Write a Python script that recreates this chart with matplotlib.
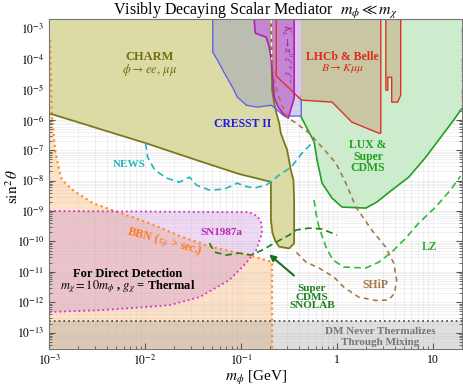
import numpy as np
import matplotlib
matplotlib.use('Agg')
import matplotlib.pyplot as plt
from matplotlib.ticker import LogLocator, NullFormatter

plt.rcParams['font.family'] = 'serif'
plt.rcParams['font.serif'] = ['Liberation Serif', 'DejaVu Serif']
plt.rcParams['mathtext.fontset'] = 'stix'

# ---- data (m_phi [GeV], sin^2 theta) ----
charm_m = [1e-3, 1.01e-2, 3.69e-2, 9.6e-2, 0.205, 0.205, 0.213, 0.228, 0.25, 0.318,
           0.358, 0.358, 0.352, 0.331, 0.303, 0.26, 0.25, 0.234, 0.222, 0.211, 0.206]
charm_s = [1.62e-6, 1.71e-7, 4.38e-8, 1.64e-8, 9.1e-9, 5.0e-10, 1.88e-10, 1.02e-10, 6.7e-11, 5.9e-11,
           8.65e-11, 2.29e-9, 1.04e-8, 2.21e-8, 1.0e-7, 3.63e-7, 7.75e-7, 1.65e-6, 3.5e-6, 9.3e-6, 2e-3]

cresst_m = [5.07e-2, 5.07e-2, 5.68e-2, 6.71e-2, 8.13e-2, 9.16e-2, 0.114, 0.148, 0.207, 0.239, 0.282, 0.425, 0.425]
cresst_s = [2e-3, 1.66e-4, 9.1e-5, 3.4e-5, 1.18e-5, 5.5e-6, 3.0e-6, 2.6e-6, 3.0e-6, 2.07e-6, 1.32e-6, 1.32e-6, 2e-3]

kl_m = [0.137, 0.141, 0.183, 0.197, 0.207, 0.222, 0.244, 0.282, 0.311, 0.334, 0.358, 0.358]
kl_s = [2e-3, 7.0e-4, 5.2e-4, 2.43e-4, 9.1e-5, 5.5e-6, 2.6e-6, 1.42e-6, 1.13e-6, 2.41e-6, 5.1e-6, 2e-3]
kl2_m = [0.358, 0.425, 0.425, 0.358]
kl2_s = [2e-3, 2e-3, 6.45e-6, 5.1e-6]

lhcb_m = [0.233, 0.233, 0.318, 0.425, 0.891, 1.43, 2.73, 2.87, 2.87]
lhcb_s = [2e-3, 2.71e-5, 1.09e-5, 4.42e-6, 3.8e-6, 8.4e-7, 3.63e-7, 3.63e-7, 2e-3]
lhcb2_m = [3.24, 3.24, 3.4, 3.4, 3.73, 3.73, 4.31, 4.63, 4.63]
lhcb2_s = [2e-3, 9.4e-6, 9.4e-6, 2.5e-5, 2.5e-5, 3.8e-6, 3.8e-6, 6.45e-6, 2e-3]

lux_m = [0.425, 0.58, 0.621, 0.70, 0.889, 1.13, 2.01, 2.61, 3.74, 5.62, 8.45, 11.5, 16.5, 20.0]
lux_s = [1.21e-6, 1.84e-7, 4.72e-8, 8.3e-9, 2.67e-9, 1.35e-9, 1.25e-9, 1.97e-9, 4.88e-9, 1.30e-8,
         5.9e-8, 2.14e-7, 9.7e-7, 2.3e-6]

bbn_m = [1.02e-3, 1.06e-3, 1.15e-3, 1.29e-3, 1.36e-3, 1.76e-3, 2.84e-3, 5.18e-3, 1.11e-2, 2.45e-2,
         5.04e-2, 9.6e-2, 0.122, 0.211, 0.211]
bbn_s = [4.13e-4, 1.65e-6, 1.0e-7, 1.76e-8, 1.04e-8, 4.88e-9, 1.82e-9, 9.2e-10, 4.0e-10, 1.39e-10,
         6.5e-11, 4.15e-11, 3.56e-11, 2.1e-11, 3e-14]

sn_m = [1e-3, 0.122, 0.148, 0.163, 0.166, 0.144, 0.113, 7.55e-2, 3.69e-2, 1.8e-2, 7.4e-3, 3.37e-3, 1e-3]
sn_s = [1.0e-9, 9.2e-10, 6.8e-10, 4.0e-10, 1.88e-10, 5.2e-11, 1.95e-11, 5.4e-12, 1.48e-12, 8.1e-13,
        6.5e-13, 5.5e-13, 4.8e-13]

dm_never_s = 2.5e-13

news_m = [1.01e-2, 1.06e-2, 1.26e-2, 1.67e-2, 2.28e-2, 2.9e-2, 3.43e-2, 4.68e-2, 6.7e-2, 9.14e-2,
          0.108, 0.137, 0.183, 0.25, 0.334, 0.432, 0.577]
news_s = [1.71e-7, 5.9e-8, 2.21e-8, 1.21e-8, 8.9e-9, 1.30e-8, 7.1e-9, 4.88e-9, 5.25e-9, 8.3e-9,
          6.6e-9, 5.7e-9, 7.1e-9, 1.52e-8, 2.78e-8, 8.0e-8, 1.98e-7]

snolab_m = [4.68e-2, 5.27e-2, 7.03e-2, 9.6e-2, 0.128, 0.166, 0.232, 0.318, 0.375, 0.513, 0.70, 1.0]
snolab_s = [8.9e-11, 4.48e-11, 3.57e-11, 4.15e-11, 3.57e-11, 5.2e-11, 9.5e-11, 1.62e-10, 2.37e-10,
            2.75e-10, 2.55e-10, 1.62e-10]

lz_m = [0.577, 0.605, 0.65, 0.769, 0.91, 1.18, 2.0, 2.74, 3.74, 5.23, 7.13, 10.7, 15.3, 19.5]
lz_s = [2.29e-9, 8.6e-10, 2.97e-10, 6.5e-11, 2.45e-11, 1.44e-11, 1.34e-11, 2.1e-11, 4.48e-11,
        1.29e-10, 4.0e-10, 1.35e-9, 4.88e-9, 1.41e-8]

ship_m = [0.211, 0.222, 0.239, 0.269, 0.311, 0.377, 0.514, 0.70, 0.977, 1.24, 1.58, 2.31, 3.23,
          3.92, 4.2, 4.0, 3.47, 2.54, 1.69, 1.18, 0.93, 0.65, 0.476, 0.358]
ship_s = [9.1e-5, 2.0e-5, 8.1e-6, 2.8e-6, 1.13e-6, 7.75e-7, 3.63e-7, 1.26e-7, 3.76e-8, 8.3e-9,
          1.35e-9, 2.37e-10, 6.5e-11, 1.95e-11, 5.4e-12, 2.0e-12, 1.19e-12, 1.15e-12, 1.48e-12,
          3.16e-12, 6.76e-12, 1.34e-11, 2.1e-11, 5.2e-11]

xmin, xmax = 1e-3, 20.0
ymin, ymax = 2.85e-14, 2e-3

fig = plt.figure(figsize=(4.63, 3.88), dpi=100)
ax = fig.add_axes([0.1065, 0.0997, 0.8905, 0.8505])
ax.set_xscale('log')
ax.set_yscale('log')
ax.set_xlim(xmin, xmax)
ax.set_ylim(ymin, ymax)

# BBN
ax.fill(bbn_m + [1e-3, 1e-3], bbn_s + [3e-14, 4.13e-4], color='#fde2c8', lw=0, zorder=1)
ax.plot(bbn_m, bbn_s, color='#ff8a1e', ls=':', lw=1.5, zorder=8)
# SN1987a
ax.fill(sn_m, sn_s, color=(0.76, 0.45, 0.84), alpha=0.28, lw=0, zorder=2)
ax.plot(sn_m, sn_s, color='#cc33cc', ls=':', lw=1.3, zorder=8)
# DM never thermalizes
ax.axhspan(ymin, dm_never_s, color=(0.45, 0.45, 0.45), alpha=0.22, lw=0, zorder=2)
ax.axhline(dm_never_s, color='#555555', ls=':', lw=1.3, zorder=8)

# CHARM
ax.fill(charm_m + [1e-3], charm_s + [2e-3], color='#dcdba6', lw=0, zorder=3)
ax.plot(charm_m, charm_s, color='#7a7a1a', lw=1.3, zorder=8)
# LUX & SuperCDMS
ax.fill(lux_m + [20.0, 0.425], lux_s + [2e-3, 2e-3], color='#cdeccd', lw=0, zorder=3)
ax.plot(lux_m, lux_s, color='#22a022', lw=1.2, zorder=8)
# LHCb & Belle
ax.fill(lhcb_m, lhcb_s, color='#c9c6a4', lw=0, zorder=4)
ax.fill(lhcb2_m, lhcb2_s, color='#c9c6a4', lw=0, zorder=4)
ax.plot(lhcb_m, lhcb_s, color='#dd3322', lw=1.0, zorder=8)
ax.plot(lhcb2_m, lhcb2_s, color='#dd3322', lw=1.0, zorder=8)
# CRESST II
ax.fill(cresst_m, cresst_s, color=(0.50, 0.52, 0.78), alpha=0.35, lw=0, zorder=5)
ax.plot(cresst_m[:-1] + [0.425], cresst_s[:-1] + [4.4e-6], color='#5a5af0', lw=0.9, zorder=8)
# K_L
ax.fill(kl2_m, kl2_s, color='#dcc0ee', lw=0, zorder=6)
ax.fill(kl_m, kl_s, color='#c486d2', lw=0, zorder=6)
ax.plot(kl_m, kl_s, color='#b020b0', lw=1.2, zorder=8)

# dashed projections
ax.plot(news_m, news_s, color='#22b5bd', ls=(0, (4, 2.5)), lw=1.2, zorder=8)
ax.plot(snolab_m, snolab_s, color='#1a801a', ls=(0, (4, 2.5)), lw=1.2, zorder=8)
ax.plot(lz_m, lz_s, color='#33bb33', ls=(0, (4, 2.5)), lw=1.2, zorder=8)
ax.plot(ship_m, ship_s, color='#a8784a', ls=(0, (3, 2.5)), lw=1.2, zorder=8)
ax.plot([0.206, 0.209], [2e-3, 9.5e-5], color='white', ls=(0, (3, 2.5)), lw=1.0, zorder=8)

ax.annotate('', xy=(0.187, 4.3e-11), xytext=(0.375, 6.6e-12),
            arrowprops=dict(arrowstyle='-|>', color='#1a701a', lw=1.5, mutation_scale=9), zorder=9)

# grid
ax.grid(which='both', color='#bbbbbb', lw=0.4, alpha=0.35, zorder=7)
ax.set_axisbelow(False)

# labels
tr = ax.transAxes
kw = dict(transform=tr, ha='center', va='center', fontweight='bold', zorder=10)
ax.text(0.244, 0.886, 'CHARM', color='#6f6f10', fontsize=9, **kw)
ax.text(0.244, 0.846, r'$\phi\rightarrow ee,\,\mu\mu$', color='#6f6f10', fontsize=9, **kw)
ax.text(0.470, 0.683, 'CRESST II', color='#1a1aee', fontsize=8.5, **kw)
ax.text(0.711, 0.886, 'LHCb & Belle', color='#dd2a1a', fontsize=8.5, **kw)
ax.text(0.711, 0.852, r'$B\rightarrow K\mu\mu$', color='#dd2a1a', fontsize=8.5, **kw)
ax.text(0.773, 0.583, 'LUX &\nSuper\nCDMS', color='#22a022', fontsize=8.5, linespacing=0.95, **kw)
ax.text(0.1945, 0.5615, 'NEWS', color='#22b5bd', fontsize=8, **kw)
ax.text(0.4163, 0.3555, 'SN1987a', color='#bb22bb', fontsize=8, **kw)
ax.text(0.2805, 0.3252, r'BBN ($\tau_\phi$ > sec.)', color='#ff7a20', fontsize=8.5,
        rotation=-15, **kw)
ax.text(0.1908, 0.2282, 'For Direct Detection', color='black', fontsize=9, **kw)
ax.text(0.1908, 0.1888, r'$m_\chi = 10m_\phi$ , $g_\chi$ = Thermal', color='black', fontsize=9, **kw)
ax.text(0.637, 0.1585, 'Super\nCDMS\nSNOLAB', color='#1a801a', fontsize=8, linespacing=0.95, **kw)
ax.text(0.79, 0.1948, 'SHiP', color='#a8784a', fontsize=8.5, **kw)
ax.text(0.923, 0.31, 'LZ', color='#33b033', fontsize=8.5, **kw)
ax.text(0.802, 0.0555, 'DM Never Thermalizes', color='#777777', fontsize=8, **kw)
ax.text(0.802, 0.0221, 'Through Mixing', color='#777777', fontsize=8, **kw)
ax.text(0.574, 0.895, r'$K_L\rightarrow\pi^0\ell^+\ell^-$', color='#aa10aa', fontsize=7,
        rotation=-90, **dict(kw, fontweight='normal'))

# ticks
ax.set_xticks([1e-3, 1e-2, 1e-1, 1, 10])
ax.set_xticklabels([r'$10^{-3}$', r'$10^{-2}$', r'$10^{-1}$', '1', '10'])
yt = [10.0 ** k for k in range(-13, -2)]
ax.set_yticks(yt)
ax.set_yticklabels([r'$10^{%d}$' % k for k in range(-13, -2)])
ax.xaxis.set_minor_locator(LogLocator(base=10, subs=np.arange(2, 10), numticks=100))
ax.yaxis.set_minor_locator(LogLocator(base=10, subs=np.arange(2, 10), numticks=100))
ax.xaxis.set_minor_formatter(NullFormatter())
ax.yaxis.set_minor_formatter(NullFormatter())
ax.tick_params(which='both', direction='in', top=True, right=True, labelsize=8.5, color='#555555')
ax.tick_params(which='major', length=4)
ax.tick_params(which='minor', length=2)
for sp in ax.spines.values():
    sp.set_color('#777777')
    sp.set_zorder(11)

fig.text(0.552, 0.972, r'Visibly Decaying Scalar Mediator  $m_\phi \ll m_\chi$',
         ha='center', va='center', fontsize=11.5)
fig.text(0.552, 0.026, r'$m_\phi$ [GeV]', ha='center', va='center', fontsize=11)
fig.text(0.028, 0.52, r'$\sin^2\theta$', ha='center', va='center', fontsize=11, rotation=90)

fig.savefig('out.png', dpi=100)
